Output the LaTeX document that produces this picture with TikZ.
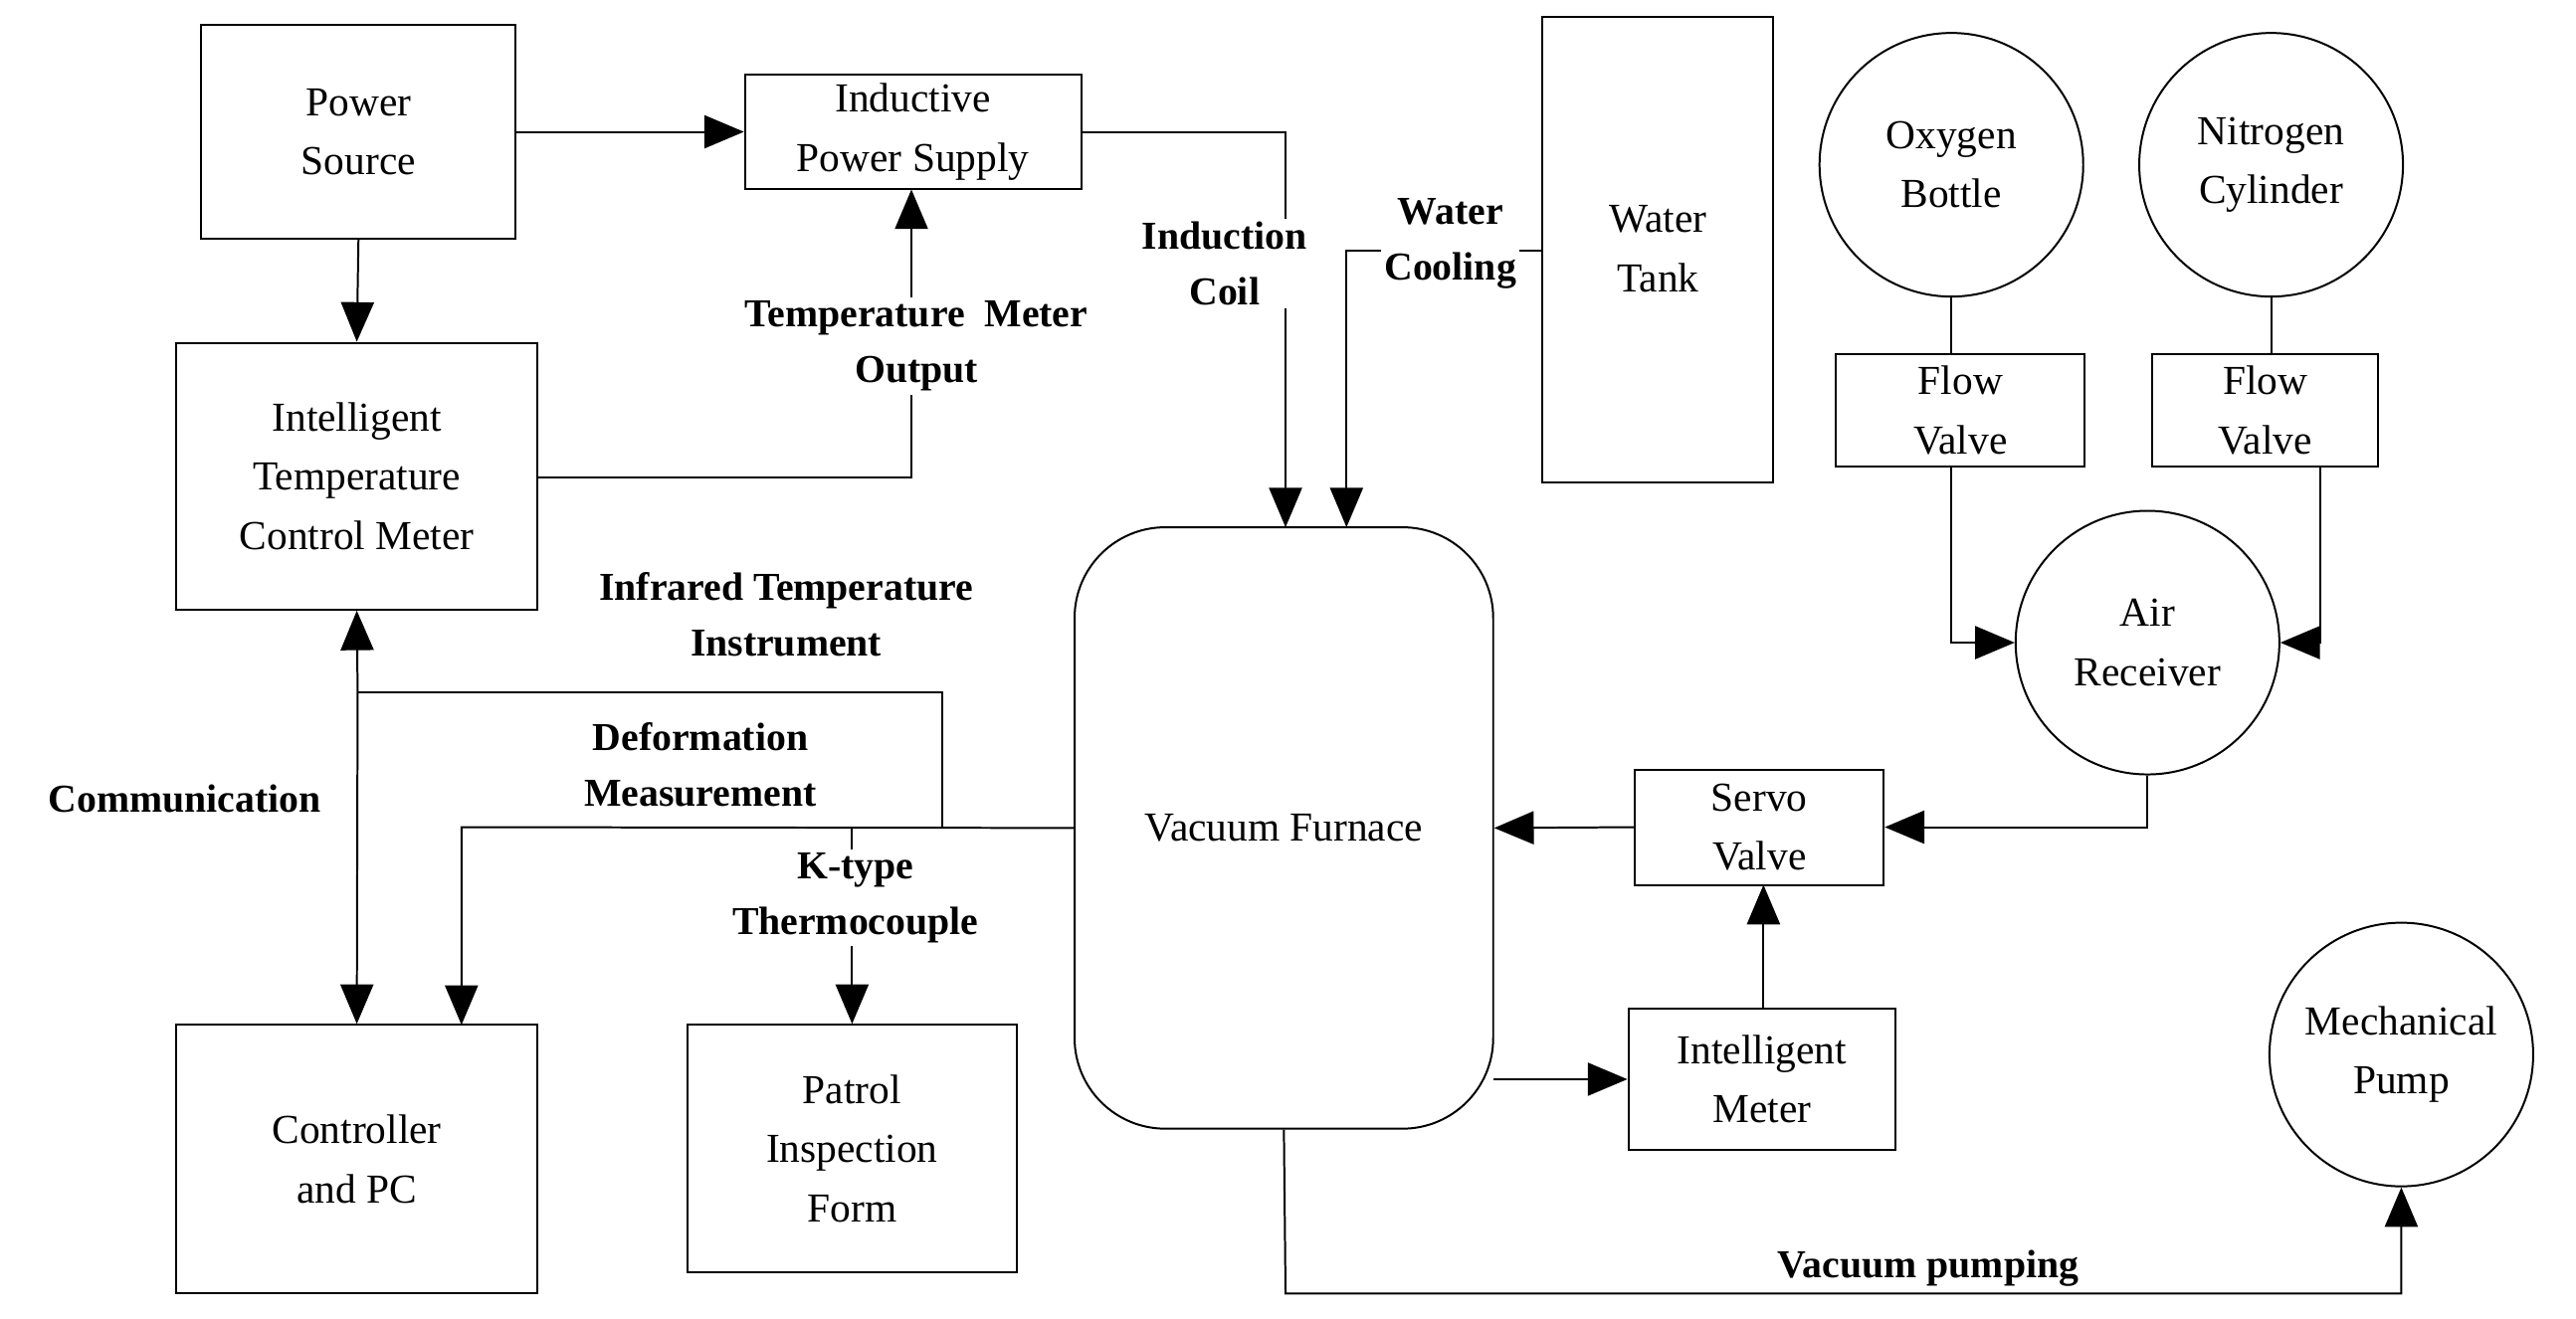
\documentclass[tikz,border=0pt]{standalone}
\usepackage{fontspec}
\setmainfont{Liberation Serif}
\usetikzlibrary{arrows.meta}
\begin{document}
\begin{tikzpicture}[x=1pt,y=-1pt,
  every node/.style={font=\fontsize{25}{36}\selectfont, align=center},
  box/.style={draw, line width=1.2pt, inner sep=0},
  circ/.style={draw, circle, line width=1.2pt, minimum size=160pt, inner sep=0},
  lab/.style={font=\fontsize{24}{34}\selectfont\bfseries, fill=white, inner sep=2pt},
  con/.style={line width=1.2pt},
  arr/.style={con, -{Triangle[length=24pt,width=20pt]}}]
\useasboundingbox (0,0) rectangle (1563,800.5);
\node[box, minimum width=191pt, minimum height=130pt] (ps) at (217.5,80) {Power\\Source};
\node[box, minimum width=204pt, minimum height=70pt] (ips) at (554,80) {Inductive\\Power Supply};
\node[box, minimum width=219pt, minimum height=162pt] (itc) at (216.5,289) {Intelligent\\Temperature\\Control Meter};
\node[box, minimum width=140pt, minimum height=283pt] (wt) at (1006,151.5) {};
\node at (1006,151) {Water\\Tank};
\node[circ] (ox) at (1184,100) {Oxygen\\Bottle};
\node[circ] (ni) at (1378,100) {Nitrogen\\Cylinder};
\node[box, minimum width=151pt, minimum height=68pt] (fv1) at (1189.5,249) {Flow\\Valve};
\node[box, minimum width=137pt, minimum height=68pt] (fv2) at (1374.5,249) {Flow\\Valve};
\node[circ] (ar) at (1303,390) {Air\\Receiver};
\node[box, rounded corners=55pt, minimum width=254pt, minimum height=365pt] (vf) at (779,502.5) {Vacuum Furnace};
\node[box, minimum width=151pt, minimum height=70pt] (sv) at (1067.5,502) {Servo\\Valve};
\node[box, minimum width=162pt, minimum height=86pt] (im) at (1069,655) {Intelligent\\Meter};
\node[circ] (mp) at (1457,640) {Mechanical\\Pump};
\node[box, minimum width=219pt, minimum height=163pt] (pc) at (216.5,703.5) {Controller\\and PC};
\node[box, minimum width=200pt, minimum height=150pt] (pif) at (517,697) {Patrol\\Inspection\\Form};
\coordinate (j1) at (217,420);
\coordinate (j2) at (572,502);
% connectors
\draw[arr] (ps.east) -- (ips.west);
\draw[arr] (ps.south) -- (itc.north);
\draw[arr] (itc.east |- 0,290) -- (553,290) -- (553,115);
\draw[arr] (ips.east) -- (780,80) -- (780,320);
\draw[arr] (wt.west |- 0,152) -- (817,152) -- (817,320);
\draw[con] (ox.south) -- (1184,215);
\draw[con] (ni.south) -- (1378,215);
\draw[arr] (1184,283) -- (1184,390) -- (ar.west);
\draw[arr] (1408,283) -- (1408,390) -- (ar.east);
\draw[arr] (ar.south) -- (1303,502) -- (sv.east);
\draw[arr] (sv.west) -- (vf.east);
\draw[arr] (906,655) -- (im.west);
\draw[arr] (1070,612) -- (1070,537);
\draw[arr] (vf.south) -- (780,785) -- (1457,785) -- (mp.south);
\draw[con] (j2) -- (572,420) -- (j1);
\draw[arr] (j1) -- (itc.south);
\draw[arr] (j1) -- (pc.north);
\draw[arr] (vf.west) -- (280,502) -- (280,622);
\draw[arr] (517,502) -- (pif.north);
% labels
\node[lab] at (556,210) {Temperature\ \ Meter\\Output};
\node[lab] at (743,160) {Induction\\Coil};
\node[lab] at (880,148) {Water\\Cooling};
\node[lab] at (477,373) {Infrared Temperature\\Instrument};
\node[lab, fill=none] at (425,464) {Deformation\\Measurement};
\node[lab] at (519,545) {K-type\\Thermocouple};
\node[lab, fill=none] at (112,485) {Communication};
\node[lab] at (1170,770) {Vacuum pumping};
\end{tikzpicture}
\end{document}
